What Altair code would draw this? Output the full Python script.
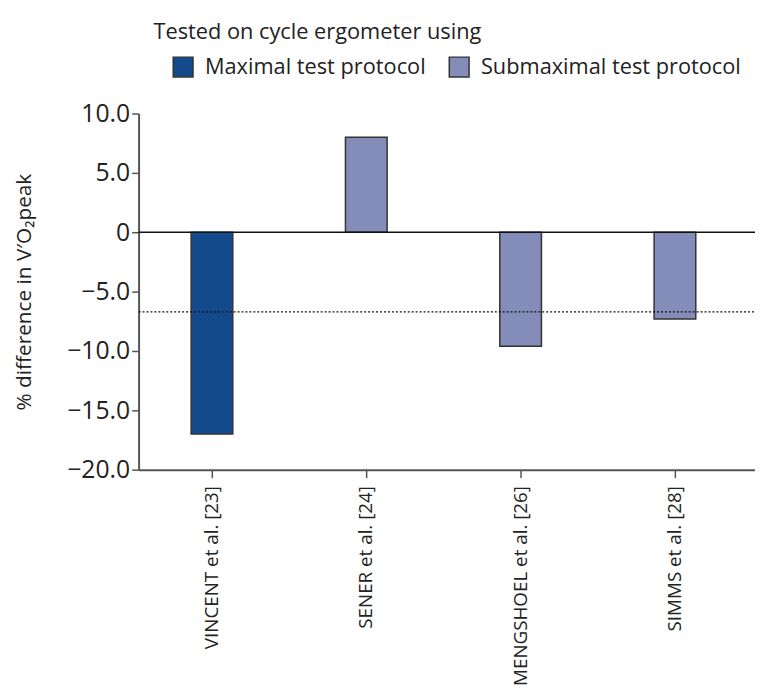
import altair as alt
import pandas as pd

# ---- data ----
studies = ["VINCENT et al. [23]", "SENER et al. [24]", "MENGSHOEL et al. [26]", "SIMMS et al. [28]"]
values = [-17.0, 8.0, -9.6, -7.3]
protocols = ["Maximal test protocol", "Submaximal test protocol",
             "Submaximal test protocol", "Submaximal test protocol"]
mean_value = [-6.7]
protocol_names = ["Maximal test protocol", "Submaximal test protocol"]
protocol_colors = ["#124a8c", "#848cba"]
y_ticks = [10, 5, 0, -5, -10, -15, -20]
legend_title = "Tested on cycle ergometer using"
y_title = "% difference  in V′O₂peak"

FONT = "Open Sans"
W, H = 623, 360

df = pd.DataFrame({"study": studies, "value": values, "protocol": protocols})
mean_df = pd.DataFrame({"mean": mean_value})
zero_df = pd.DataFrame({"zero": [0]})
title_df = pd.DataFrame({"t": [legend_title]})

x_enc = alt.X(
    "study:N", sort=studies, title=None,
    scale=alt.Scale(paddingInner=0.73, paddingOuter=0.362, align=0.47),
    axis=alt.Axis(labelAngle=-90, labelFontSize=19, labelFont=FONT, labelColor="#222",
                  domainColor="#555", domainWidth=2, tickColor="#555", tickSize=8,
                  tickWidth=1.5, labelPadding=8, labelLimit=300),
)
y_enc = alt.Y(
    "value:Q", title=y_title,
    scale=alt.Scale(domain=[-20, 10], nice=False, zero=False),
    axis=alt.Axis(values=y_ticks, grid=False,
                  labelExpr="datum.value == 0 ? '0' : replace(format(datum.value, '.1f'), '-', '\u2212')",
                  labelFontSize=25, labelFont=FONT, labelColor="#222", labelPadding=2,
                  domainColor="#555", domainWidth=2, tickColor="#555", tickSize=7, tickWidth=1.5,
                  titleFont=FONT, titleFontSize=21, titleFontWeight="normal", titleColor="#222",
                  titlePadding=33),
)

bars = alt.Chart(df).mark_bar(stroke="#333", strokeWidth=1.5).encode(
    x=x_enc,
    y=y_enc,
    color=alt.Color(
        "protocol:N",
        scale=alt.Scale(domain=protocol_names, range=protocol_colors),
        legend=alt.Legend(orient="none", legendX=34, legendY=-58, direction="horizontal",
                          title=None, symbolType="square", symbolSize=400,
                          symbolStrokeColor="#333", symbolStrokeWidth=1.5, symbolOpacity=1,
                          labelFontSize=22, labelFont=FONT, labelColor="#222", labelLimit=400,
                          labelOffset=11, columnPadding=20, padding=0),
    ),
)

zero_line = alt.Chart(zero_df).mark_rule(color="#111", strokeWidth=1.3).encode(
    y=alt.Y("zero:Q"), x=alt.value(0), x2=alt.value(W)
)
mean_line = alt.Chart(mean_df).mark_rule(color="#111", strokeWidth=1.2, strokeDash=[2, 2]).encode(
    y=alt.Y("mean:Q"), x=alt.value(0), x2=alt.value(W)
)
title_text = alt.Chart(title_df).mark_text(
    align="left", baseline="alphabetic", font=FONT, fontSize=22, color="#222"
).encode(text="t:N", x=alt.value(15), y=alt.value(-75))

chart = alt.layer(bars, zero_line, mean_line, title_text).properties(
    width=W, height=H,
    autosize=alt.AutoSizeParams(type="none"),
    padding={"left": 132, "top": 103, "right": 0, "bottom": 220},
).configure_view(stroke=None)

chart.save("out.html", embed_options={"renderer": "svg", "actions": False})
